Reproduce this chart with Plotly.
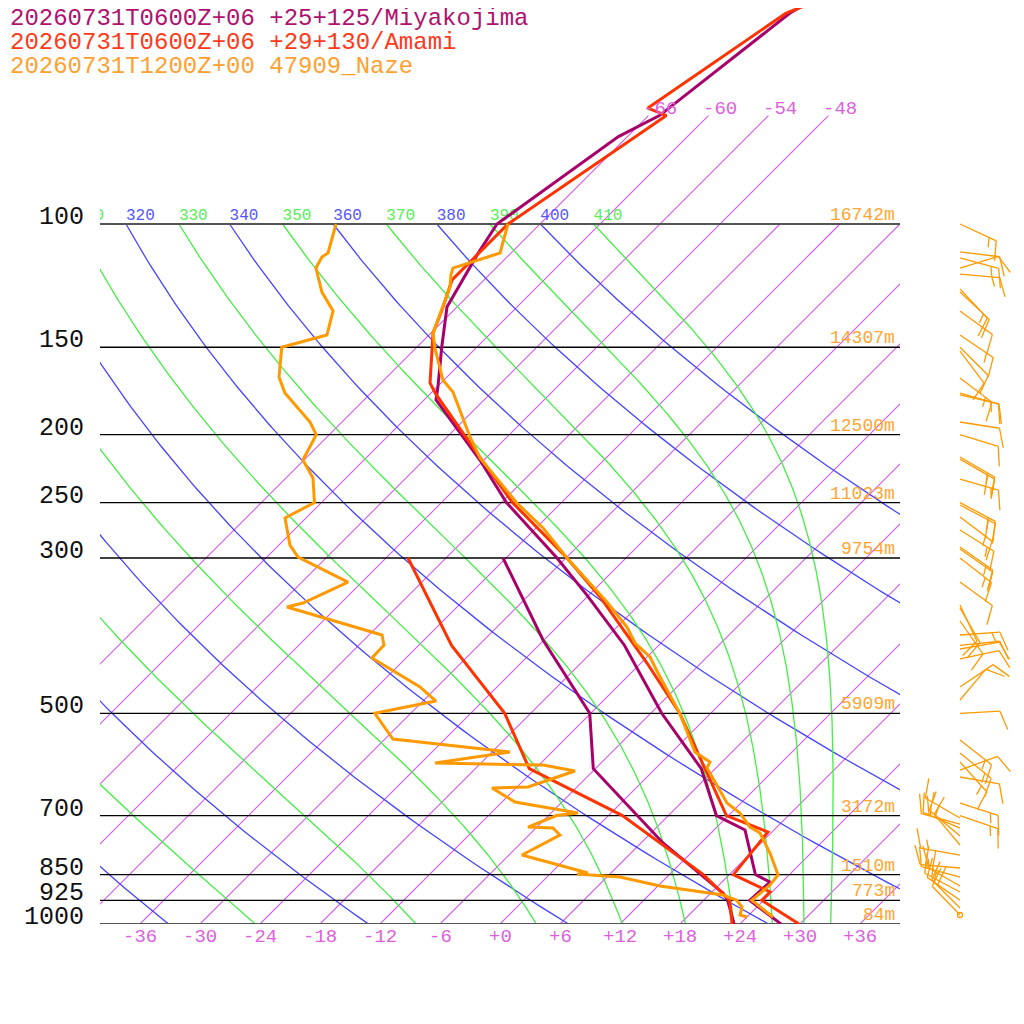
# skew-T log-p comparison: Miyakojima / Amami forecasts vs Naze radiosonde
import numpy as np
import plotly.graph_objects as go

# --- sounding data (pressure hPa, temperature degC) ---
MIYAKO_P = [45, 50, 70, 75, 100, 110.7, 131.4, 150, 171, 178.4, 217.4, 250, 300,
            338.9, 400, 500, 600, 700, 734, 850, 871, 925, 1000]
MIYAKO_T = [-59.9, -62.1, -64.9, -66.9, -70.3, -69.2, -67.0, -63.5, -59.9, -58.8, -48.4, -41.5, -30.9,
            -24.2, -15.4, -4.9, 4.6, 10.8, 15.1, 20.6, 22.8, 22.6, 28.1]
MIYAKO_TD_P = [300, 392.9, 500, 600, 766, 903, 925, 1000]
MIYAKO_TD = [-36.3, -24.1, -12.1, -6.2, 8.2, 19.2, 20.4, 23.4]

AMAMI_P = [45, 50, 68.3, 70, 100, 120.2, 132.7, 143.1, 168.7, 175, 217.4, 250, 300,
           341, 423.8, 500, 700, 739, 850, 900, 925, 1000]
AMAMI_T = [-57.6, -62.5, -66.8, -64.2, -69.2, -69.2, -67.2, -65.8, -61.1, -59.4, -48.2, -40.9, -29.9,
           -22.7, -11.4, -3.1, 11.8, 17.6, 18.4, 23.8, 23.8, 29.9]
AMAMI_TD_P = [300, 400, 500, 600, 700, 766, 850, 925, 1000]
AMAMI_TD = [-45.8, -32.7, -20.6, -12.6, 1.4, 7.9, 15.4, 20.6, 23.2]

NAZE_P = [100, 110.0, 115.6, 118.3, 123.0, 143.1, 150, 167.1, 173.8, 201.5, 215.9, 250, 271.8,
          300, 322.6, 346.8, 376.5, 396.8, 415.5, 438, 500, 568, 586.9, 598.7, 637.3, 671.7,
          694.2, 726.9, 741.4, 791.8, 851, 879.6, 925, 948.8, 977.3]
NAZE_T = [-69.2, -67.1, -70.3, -69.8, -68.7, -65.8, -64.2, -60.1, -57.9, -51.7, -48.6, -40.5, -35.3,
          -29.9, -25.7, -21.5, -17.0, -14.6, -11.7, -9.3, -3.1, 2.3, 4.8, 5.1, 8.1, 10.6,
          12.9, 15.3, 16.9, 19.9, 22.9, 23.1, 22.8, 24.6, 26.6]
NAZE_TD_P = [100, 110, 111.5, 115.6, 125.1, 133.1, 144.1, 150, 165.4, 174.4, 191.8, 200, 217.4,
             230.6, 250, 263, 287.5, 299, 324.7, 347.9, 352.5, 386.5, 399.4, 416.9, 458.6, 480.3,
             500, 544.2, 568, 588.9, 592.8, 604.6, 637.3, 639.4, 669.5, 694.2, 700, 726.9, 729.3,
             746.3, 797, 845.6, 848.4, 856.8, 882.5, 909, 925, 945.6, 970.9, 977.3]
NAZE_TD = [-86.4, -84.3, -84.5, -84.0, -81.0, -78.0, -76.2, -79.5, -76.8, -74.6, -69.2, -67.3, -66.1,
           -63.3, -60.7, -62.1, -58.9, -56.9, -49.4, -51.8, -53.0, -40.7, -39.5, -39.4, -31.7, -28.7,
           -33.6, -29.2, -16.2, -22.6, -11.6, -7.8, -10.9, -14.4, -10.7, -3.3, -5.2, -6.9, -4.3,
           -2.9, -4.7, 3.7, 2.7, 7.3, 12.2, 19.4, 21.3, 22.5, 23.1, 24.0]

# Naze winds (pressure hPa, direction deg, speed kt)
WIND_P = [100, 109.6, 111.8, 115.6, 117.9, 123.8, 125.1, 133.1, 144.1, 150, 151.9, 166, 174.4,
          175.5, 191.8, 200, 215.2, 216.7, 231.4, 250, 252, 262.2, 273.6, 289.4, 291.3, 300,
          324.7, 350.2, 353.7, 369.1, 386.5, 400, 404.7, 418.2, 458.6, 478.7, 500, 546, 569.8,
          586.9, 602.6, 616.6, 671.7, 700, 705.7, 719.8, 729.3, 748.7, 771.2, 797, 831.8, 856.8,
          882.5, 900.2, 925, 948.8, 970.9]
WIND_DIR = [115, 97, 105, 73, 95, 137, 133, 126, 124, 135, 143, 127, 106,
            103, 99, 107, 120, 120, 106, 118, 118, 127, 122, 125, 125, 128,
            126, 155, 150, 145, 86, 84, 80, 78, 56, 40, 87, 128, 129,
            138, 70, 100, 108, 109, 300, 285, 293, 310, 320, 280, 275, 285,
            300, 298, 305, 315, 316]
WIND_KT = [15, 10, 15, 10, 15, 10, 15, 10, 15, 10, 10, 15, 15,
           10, 10, 10, 15, 20, 15, 20, 15, 15, 15, 15, 10, 15,
           10, 10, 10, 10, 15, 10, 10, 10, 10, 10, 10, 15, 15,
           15, 10, 10, 15, 15, 15, 20, 15, 15, 10, 15, 20, 15,
           20, 15, 15, 20, 10]
CALM_P = [970.9]

# clipped marks of the other stations at the right edge
EDGE_MAGENTA_P = [120.2, 146.5, 178.4, 217.4, 264.8, 322.6, 392.9, 478.7]
EDGE_BLUE_P = [331.1, 439.4, 585.0, 797.0]

# --- diagram furniture ---
PRESSURE_LEVELS = [100, 150, 200, 250, 300, 500, 700, 850, 925, 1000]
NAZE_HEIGHTS = ["16742m", "14307m", "12500m", "11023m", "9754m",
                "5909m", "3172m", "1510m", "773m", "84m"]
TEMP_TICKS = list(range(-36, 37, 6))
ISOTHERMS = list(range(-66, 37, 6))
TOP_ISOTHERMS = [-66, -60, -54, -48]
DRY_THETA = list(range(240, 401, 20))
MOIST_THETA = list(range(250, 411, 20))
THETA_LABELS = list(range(310, 411, 10))

TITLES = ["20260731T0600Z+06 +25+125/Miyakojima",
          "20260731T0600Z+06 +29+130/Amami",
          "20260731T1200Z+00 47909_Naze"]

C_MIYAKO, C_AMAMI, C_NAZE = "#a8006a", "#ff3300", "#ff9900"
TITLE_COLORS = ["#b0106e", "#ff3a1a", "#ffa030"]
C_ISO = "#d455f2"
C_DRY = "#4444ff"
C_MOIST = "#44ee44"
FONT = "Liberation Mono"

SKEW = 70.0            # degC shift per decade of pressure
PX_PER_DECADE = 700.0  # vertical pixels per decade (for barb offsets)
W = H = 1024
OFF = 8                # page body margin: screen px = layout px + OFF


def skew_x(t, p):
    return np.asarray(t, float) + SKEW * np.log10(1000.0 / np.asarray(p, float))


def moist_profile(theta):
    # pseudo-adiabat started at 100 hPa, integrated down to 1000 hPa
    Rd, cp, Lv, eps = 287.04, 1005.7, 2.501e6, 0.622

    def lapse(T, p):
        tc = T - 273.15
        es = 6.112 * np.exp(17.67 * tc / (tc + 243.5))
        rs = eps * es / (p - es)
        return (Rd * T + Lv * rs) / (cp + Lv * Lv * rs * eps / (Rd * T * T)) / p

    ps = np.geomspace(100, 1000, 300)
    T = theta * 0.1 ** (Rd / cp)
    out = [T]
    for i in range(1, len(ps)):
        dp = ps[i] - ps[i - 1]
        k1 = lapse(T, ps[i - 1])
        k2 = lapse(T + k1 * dp, ps[i])
        T = T + 0.5 * (k1 + k2) * dp
        out.append(T)
    return ps, np.array(out) - 273.15


def px(sx):
    # screen x pixel -> paper fraction
    return (sx - OFF) / W


def py(sy):
    # screen y pixel -> paper fraction
    return 1 - (sy - OFF) / H


fig = go.Figure()

# isotherms, one trace with gaps
iso_x, iso_y = [], []
for t in ISOTHERMS:
    top = 70 if t in TOP_ISOTHERMS else 100
    iso_x += [float(skew_x(t, 1000)), float(skew_x(t, top)), None]
    iso_y += [1000, top, None]
fig.add_trace(go.Scatter(x=iso_x, y=iso_y, mode="lines", connectgaps=False,
                         line=dict(color=C_ISO, width=1.1), hoverinfo="skip"))

# dry adiabats
pp = np.geomspace(100, 1000, 120)
for th in DRY_THETA:
    tt = th * (pp / 1000.0) ** 0.2857 - 273.15
    fig.add_trace(go.Scatter(x=skew_x(tt, pp), y=pp, mode="lines",
                             line=dict(color=C_DRY, width=1.3), hoverinfo="skip"))

# moist adiabats
for th in MOIST_THETA:
    mp, mt = moist_profile(th)
    fig.add_trace(go.Scatter(x=skew_x(mt, mp), y=mp, mode="lines",
                             line=dict(color=C_MOIST, width=1.3), hoverinfo="skip"))

# isobars
for p in PRESSURE_LEVELS:
    edge = p in (100, 1000)
    fig.add_trace(go.Scatter(x=[-40, 40], y=[p, p], mode="lines",
                             line=dict(color="#555555" if edge else "black", width=2 if edge else 1.3),
                             hoverinfo="skip"))

# theta labels at 100 hPa (clipped by the plot area)
lab_x, lab_c = [], []
for th in THETA_LABELS:
    if th % 20 == 0:
        t100 = th * 0.1 ** 0.2857 - 273.15
        lab_c.append("#5555ff")
    else:
        t100 = moist_profile(th)[1][0]
        lab_c.append("#55ee55")
    lab_x.append(float(skew_x(t100, 100)))
fig.add_trace(go.Scatter(x=lab_x, y=[100] * len(lab_x), mode="text",
                         text=[str(t) for t in THETA_LABELS], textposition="top right",
                         textfont=dict(family=FONT, size=16, color=lab_c),
                         cliponaxis=True, hoverinfo="skip"))

# profiles
for p, t, c in [(MIYAKO_P, MIYAKO_T, C_MIYAKO), (MIYAKO_TD_P, MIYAKO_TD, C_MIYAKO),
                (AMAMI_P, AMAMI_T, C_AMAMI), (AMAMI_TD_P, AMAMI_TD, C_AMAMI),
                (NAZE_P, NAZE_T, C_NAZE), (NAZE_TD_P, NAZE_TD, C_NAZE)]:
    fig.add_trace(go.Scatter(x=skew_x(t, p), y=p, mode="lines",
                             line=dict(color=c, width=3), hoverinfo="skip"))

# wind barbs on a pixel-scaled side axis
bx, by = [], []
base, shaft = 960.0, 40.0
rot = np.radians(70)
for p, d, s in zip(WIND_P, WIND_DIR, WIND_KT):
    lp = np.log10(p)
    ux, uy = np.sin(np.radians(d)), -np.cos(np.radians(d))
    fx = ux * np.cos(rot) - uy * np.sin(rot)
    fy = ux * np.sin(rot) + uy * np.cos(rot)
    bx += [base, base + shaft * ux, None]
    by += [p, 10 ** (lp + shaft * uy / PX_PER_DECADE), None]
    full, half = s // 10, (s % 10) >= 5
    pos = shaft if full else shaft - 8
    feathers = [20.0] * full + ([10.0] if half else [])
    for ln in feathers:
        sx, sy = ux * pos, uy * pos
        bx += [base + sx, base + sx + ln * fx, None]
        by += [10 ** (lp + sy / PX_PER_DECADE), 10 ** (lp + (sy + ln * fy) / PX_PER_DECADE), None]
        pos -= 8
fig.add_trace(go.Scatter(x=bx, y=by, xaxis="x2", yaxis="y", mode="lines",
                         line=dict(color=C_NAZE, width=1.3), hoverinfo="skip"))
fig.add_trace(go.Scatter(x=[base] * len(CALM_P), y=CALM_P, xaxis="x2", yaxis="y", mode="markers",
                         marker=dict(symbol="circle-open", size=5, color=C_NAZE, line=dict(width=1.3)),
                         hoverinfo="skip"))
fig.add_trace(go.Scatter(x=[1022] * len(EDGE_MAGENTA_P), y=EDGE_MAGENTA_P, xaxis="x2", yaxis="y",
                         mode="markers", marker=dict(size=2, color="#cc44cc"), hoverinfo="skip"))
fig.add_trace(go.Scatter(x=[1022] * len(EDGE_BLUE_P), y=EDGE_BLUE_P, xaxis="x2", yaxis="y",
                         mode="markers", marker=dict(size=2, color="#4444ff"), hoverinfo="skip"))

ann = []
# titles
for i, (txt, col) in enumerate(zip(TITLES, TITLE_COLORS)):
    ann.append(dict(text=txt, xref="paper", yref="paper", x=px(8), y=py(18 + 24 * i),
                    xanchor="left", yanchor="middle", showarrow=False,
                    font=dict(family=FONT, size=24, color=col)))
# pressure labels and Naze heights
for p, h in zip(PRESSURE_LEVELS, NAZE_HEIGHTS):
    ann.append(dict(text=str(p), xref="paper", yref="y", x=px(86), y=np.log10(p),
                    xanchor="right", yanchor="bottom", yshift=-10, showarrow=False,
                    font=dict(family=FONT, size=25, color="#111111")))
    ann.append(dict(text=h, xref="paper", yref="y", x=px(897), y=np.log10(p),
                    xanchor="right", yanchor="bottom", yshift=-3, showarrow=False,
                    font=dict(family=FONT, size=18, color="#ffa530")))
# temperature ticks along the bottom
for t in TEMP_TICKS:
    ann.append(dict(text=f"{t:+d}", xref="x", yref="paper", x=t, y=py(937),
                    xanchor="center", yanchor="middle", showarrow=False,
                    font=dict(family=FONT, size=19, color="#dd5fdd")))
# isotherm labels above 100 hPa
for t in TOP_ISOTHERMS:
    ann.append(dict(text=str(t), xref="x", yref="y", x=float(skew_x(t, 70)), y=np.log10(70),
                    xanchor="left", yanchor="bottom", xshift=-7, yshift=-6, showarrow=False,
                    font=dict(family=FONT, size=19, color="#dd5fdd")))

fig.update_layout(
    width=W, height=H, margin=dict(l=0, r=0, t=0, b=0),
    paper_bgcolor="white", plot_bgcolor="white", showlegend=False,
    xaxis=dict(domain=[px(100), px(900)], range=[-40, 40], visible=False),
    xaxis2=dict(domain=[px(900), 1.0], range=[900, W + OFF], anchor="y", visible=False),
    yaxis=dict(type="log", domain=[py(924), 1.0], range=[3, 3 - (924 - OFF) / PX_PER_DECADE],
               visible=False),
    annotations=ann,
)

fig.write_html("out.html")
